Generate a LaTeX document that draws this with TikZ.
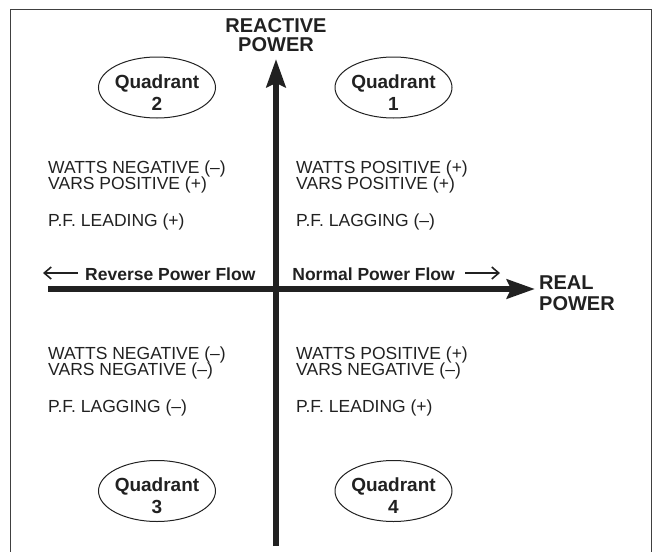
\documentclass[tikz,border=0pt]{standalone}
\usepackage{fontspec}
\setmainfont{Liberation Sans}
\usetikzlibrary{arrows.meta,shapes.geometric}
\definecolor{ink}{gray}{0.13}
\begin{document}
\begin{tikzpicture}[x=1pt,y=-1pt,
  ring/.style={ellipse,draw=ink,line width=1pt,minimum width=117pt,minimum height=61pt,inner sep=0pt},
  qtext/.style={anchor=base,inner sep=0pt,text=ink,font=\fontsize{19}{19}\selectfont\bfseries},
  info/.style={anchor=base west,inner sep=0pt,text=ink,font=\fontsize{17.5}{17.5}\selectfont},
  axis/.style={draw=ink,line width=6pt,-{Stealth[length=28pt,width=19pt,inset=4pt]}},
  flow/.style={draw=ink,line width=1.6pt,-{Straight Barb[length=7pt,width=12pt]}},
  lab/.style={anchor=base,inner sep=0pt,text=ink,font=\fontsize{17.5}{17.5}\selectfont\bfseries},
  axlab/.style={inner sep=0pt,text=ink,font=\fontsize{20}{20}\selectfont\bfseries}]
\useasboundingbox (0,0) rectangle (654,552);
\draw[line width=1pt,black!75] (10,552) -- (10,9) -- (651,9) -- (651,552);
% axes
\coordinate (vb) at (276,546);
\coordinate (vt) at (276,59);
\coordinate (hl) at (48,289);
\coordinate (hr) at (535,289);
\draw[axis] (vb) -- (vt);
\draw[axis] (hl) -- (hr);
\node[axlab,anchor=base] (reactive) at (276,32) {REACTIVE};
\node[axlab,anchor=base] (reactive2) at (276,51) {POWER};
\node[axlab,anchor=base west] (real) at (539,289) {REAL};
\node[axlab,anchor=base west] (real2) at (539,310) {POWER};
% quadrants
\node[ring] (q2) at (157,87.5) {};
\node[ring] (q1) at (393.5,87.5) {};
\node[ring] (q3) at (157,491) {};
\node[ring] (q4) at (393.5,491) {};
\node[qtext] (q2a) at (157,88) {Quadrant};
\node[qtext] (q2b) at (157,110) {2};
\node[qtext] (q1a) at (393.5,88) {Quadrant};
\node[qtext] (q1b) at (393.5,110) {1};
\node[qtext] (q3a) at (157,491.5) {Quadrant};
\node[qtext] (q3b) at (157,513.5) {3};
\node[qtext] (q4a) at (393.5,491.5) {Quadrant};
\node[qtext] (q4b) at (393.5,513.5) {4};
% info texts
\node[info] (t2a) at (48,173) {WATTS NEGATIVE (–)};
\node[info] (t2b) at (48,189) {VARS POSITIVE (+)};
\node[info] (t2c) at (48,226) {P.F. LEADING (+)};
\node[info] (t1a) at (296,173) {WATTS POSITIVE (+)};
\node[info] (t1b) at (296,189) {VARS POSITIVE (+)};
\node[info] (t1c) at (296,226) {P.F. LAGGING (–)};
\node[info] (t3a) at (48,359) {WATTS NEGATIVE (–)};
\node[info] (t3b) at (48,375) {VARS NEGATIVE (–)};
\node[info] (t3c) at (48,412) {P.F. LAGGING (–)};
\node[info] (t4a) at (296,359) {WATTS POSITIVE (+)};
\node[info] (t4b) at (296,375) {VARS NEGATIVE (–)};
\node[info] (t4c) at (296,412) {P.F. LEADING (+)};
% flow labels
\node[lab,anchor=base west] (rev) at (85,280) {Reverse Power Flow};
\node[lab,anchor=base east] (norm) at (455,280) {Normal Power Flow};
\coordinate (revtail) at (78,273);
\coordinate (revend) at (43,273);
\coordinate (normtail) at (465,273);
\coordinate (normend) at (500,273);
\draw[flow] (revtail) -- (revend);
\draw[flow] (normtail) -- (normend);
\end{tikzpicture}
\end{document}
